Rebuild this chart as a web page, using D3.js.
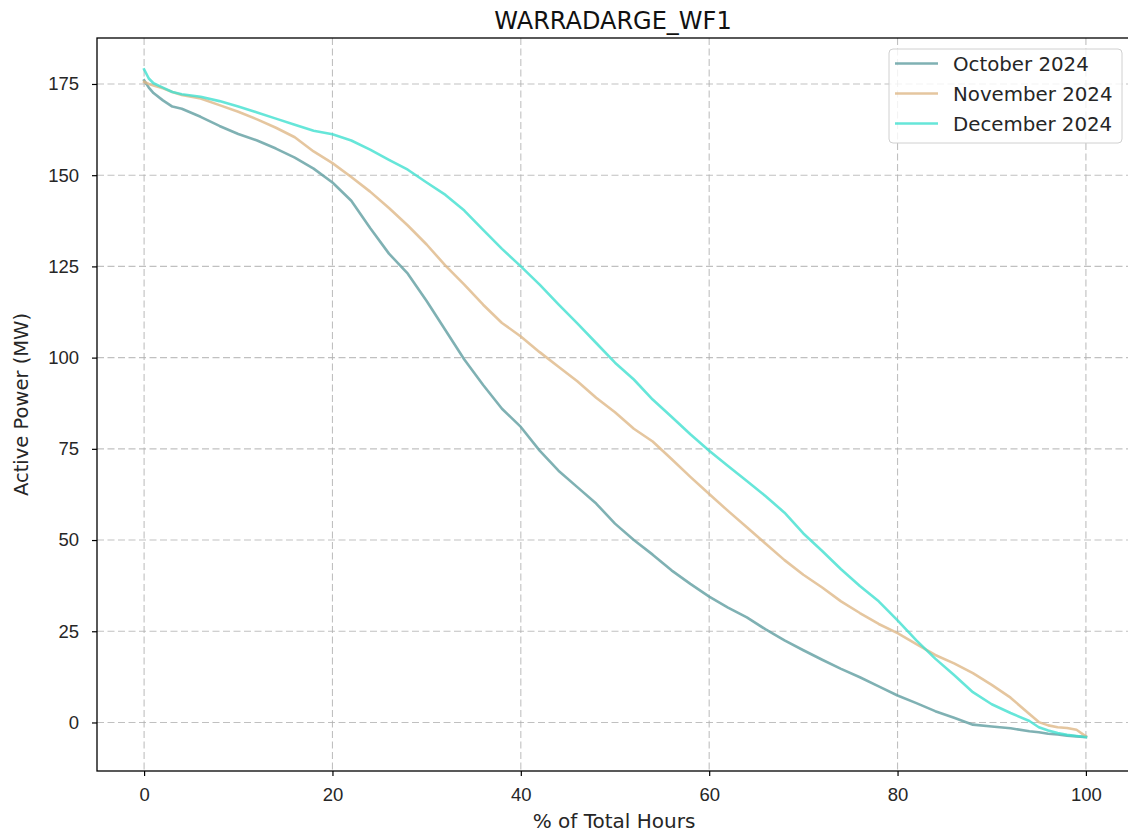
<!DOCTYPE html>
<html>
<head>
<meta charset="utf-8">
<script src="https://cdn.jsdelivr.net/npm/d3@7"></script>
<style>
  html, body { margin: 0; padding: 0; background: #fff; }
  svg { display: block; font-family: "DejaVu Sans", sans-serif; }
  .grid line { stroke: #b0b0b0; stroke-opacity: 0.8; stroke-dasharray: 7,3.5; stroke-width: 1.1; }
  .axis text { fill: #262626; font-size: 18.5px; }
  .axis path { display: none; }
  .axis line { stroke: #000; stroke-width: 1.2; }
</style>
</head>
<body>
<div id="chart"></div>
<script>
// Duration curves per month
const pct = [0, 0.5, 1, 2, 3, 4, 6, 8, 10, 12, 14, 16, 18, 20, 22, 24, 26, 28, 30, 32, 34, 36, 38, 40,
  42, 44, 46, 48, 50, 52, 54, 56, 58, 60, 62, 64, 66, 68, 70, 72, 74, 76, 78, 80, 82, 84, 86, 88,
  90, 92, 94, 95, 96, 97, 98, 99, 100];

const october = [176, 174, 172.5, 170.5, 168.8, 168.2, 166, 163.5, 161.3, 159.5, 157.3, 154.8, 151.8, 148,
  143, 135.5, 128.5, 123, 115.5, 107.5, 99.5, 92.5, 86, 81,
  74.5, 69, 64.5, 60, 54.5, 50, 46, 41.7, 38, 34.5, 31.5, 28.8, 25.5, 22.5, 19.8, 17.2, 14.7, 12.4, 9.9, 7.4,
  5.3, 3.1, 1.3, -0.6, -1.1, -1.6, -2.4, -2.7, -3.1, -3.3, -3.6, -3.8, -4];

const november = [175.6, 175, 174.6, 173.8, 172.8, 172, 171, 169.2, 167.4, 165.3, 163, 160.4, 156.5, 153.3,
  149.5, 145.5, 141, 136.2, 131, 125.2, 120, 114.5, 109.5, 105.8,
  101.5, 97.5, 93.5, 89, 85, 80.5, 77, 72.2, 67.3, 62.6, 58, 53.5, 49, 44.5, 40.5, 37, 33.2, 30, 27, 24.5,
  21.5, 18.5, 16.2, 13.5, 10.3, 6.8, 2.3, 0.1, -0.8, -1.3, -1.5, -2, -3.8];

const december = [179, 176.5, 175.2, 174, 172.8, 172.2, 171.5, 170.3, 168.8, 167.2, 165.5, 163.8, 162.2, 161.2,
  159.5, 157, 154.2, 151.5, 148, 144.6, 140.3, 135, 129.8, 125,
  120, 114.6, 109.4, 104, 98.6, 94, 88.5, 83.8, 79, 74.5, 70.3, 66.2, 62, 57.5, 51.8, 47, 42, 37.4, 33.2, 28,
  22.5, 17.5, 13, 8.3, 5, 2.6, 0.4, -1.3, -2.2, -2.9, -3.4, -3.7, -4];

const seriesNames = ['October 2024', 'November 2024', 'December 2024'];
const seriesColors = ['cadetblue', 'burlywood', 'turquoise'];
const seriesValues = [october, november, december];

const xTicks = [0, 20, 40, 60, 80, 100];
const yTicks = [0, 25, 50, 75, 100, 125, 150, 175];

const width = 1128, height = 834;
const plot = { left: 97, top: 38, right: 1133, bottom: 771 };

const svg = d3.select('#chart').append('svg')
  .attr('width', width)
  .attr('height', height);

const x = d3.scaleLinear().domain([-5, 105]).range([plot.left, plot.right]);
const y = d3.scaleLinear().domain([-13.3, 187.6]).range([plot.bottom, plot.top]);

// grid
const grid = svg.append('g').attr('class', 'grid');
grid.selectAll('line.v').data(xTicks).join('line')
  .attr('class', 'v')
  .attr('x1', d => x(d)).attr('x2', d => x(d))
  .attr('y1', plot.top).attr('y2', plot.bottom);
grid.selectAll('line.h').data(yTicks).join('line')
  .attr('class', 'h')
  .attr('x1', plot.left).attr('x2', plot.right)
  .attr('y1', d => y(d)).attr('y2', d => y(d));

// lines
const line = d3.line()
  .x((d, i) => x(pct[i]))
  .y(d => y(d));

svg.append('g').selectAll('path').data(seriesValues).join('path')
  .attr('d', d => line(d))
  .attr('fill', 'none')
  .attr('stroke', (d, i) => seriesColors[i])
  .attr('stroke-opacity', 0.8)
  .attr('stroke-width', 2.6)
  .attr('stroke-linejoin', 'round')
  .attr('stroke-linecap', 'square');

// axes
svg.append('g')
  .attr('class', 'axis')
  .attr('transform', `translate(0,${plot.bottom})`)
  .call(d3.axisBottom(x).tickValues(xTicks).tickSize(5).tickPadding(12).tickFormat(d3.format('d')));

svg.append('g')
  .attr('class', 'axis')
  .attr('transform', `translate(${plot.left},0)`)
  .call(d3.axisLeft(y).tickValues(yTicks).tickSize(5).tickPadding(13).tickFormat(d3.format('d')));

// frame
svg.append('rect')
  .attr('x', plot.left).attr('y', plot.top)
  .attr('width', plot.right - plot.left).attr('height', plot.bottom - plot.top)
  .attr('fill', 'none').attr('stroke', '#000').attr('stroke-width', 1.3);

// title and labels
svg.append('text')
  .attr('x', 613).attr('y', 29)
  .attr('text-anchor', 'middle')
  .attr('font-size', 24)
  .attr('fill', '#111')
  .text('WARRADARGE_WF1');

svg.append('text')
  .attr('x', 614).attr('y', 828)
  .attr('text-anchor', 'middle')
  .attr('font-size', 20)
  .attr('fill', '#262626')
  .text('% of Total Hours');

svg.append('text')
  .attr('transform', `translate(28,${(plot.top + plot.bottom) / 2}) rotate(-90)`)
  .attr('text-anchor', 'middle')
  .attr('font-size', 19.5)
  .attr('fill', '#262626')
  .text('Active Power (MW)');

// legend
const lg = svg.append('g').attr('transform', 'translate(889,49)');
lg.append('rect')
  .attr('width', 233).attr('height', 94)
  .attr('rx', 4)
  .attr('fill', '#fff').attr('fill-opacity', 0.8)
  .attr('stroke', '#d0d0d0');
const items = lg.selectAll('g.item').data(seriesNames).join('g')
  .attr('class', 'item')
  .attr('transform', (d, i) => `translate(0,${14.5 + i * 30})`);
items.append('line')
  .attr('x1', 6).attr('x2', 49)
  .attr('stroke', (d, i) => seriesColors[i])
  .attr('stroke-opacity', 0.8)
  .attr('stroke-width', 2.6);
items.append('text')
  .attr('x', 64).attr('y', 7)
  .attr('font-size', 19.8)
  .attr('fill', '#262626')
  .text(d => d);
</script>
</body>
</html>
